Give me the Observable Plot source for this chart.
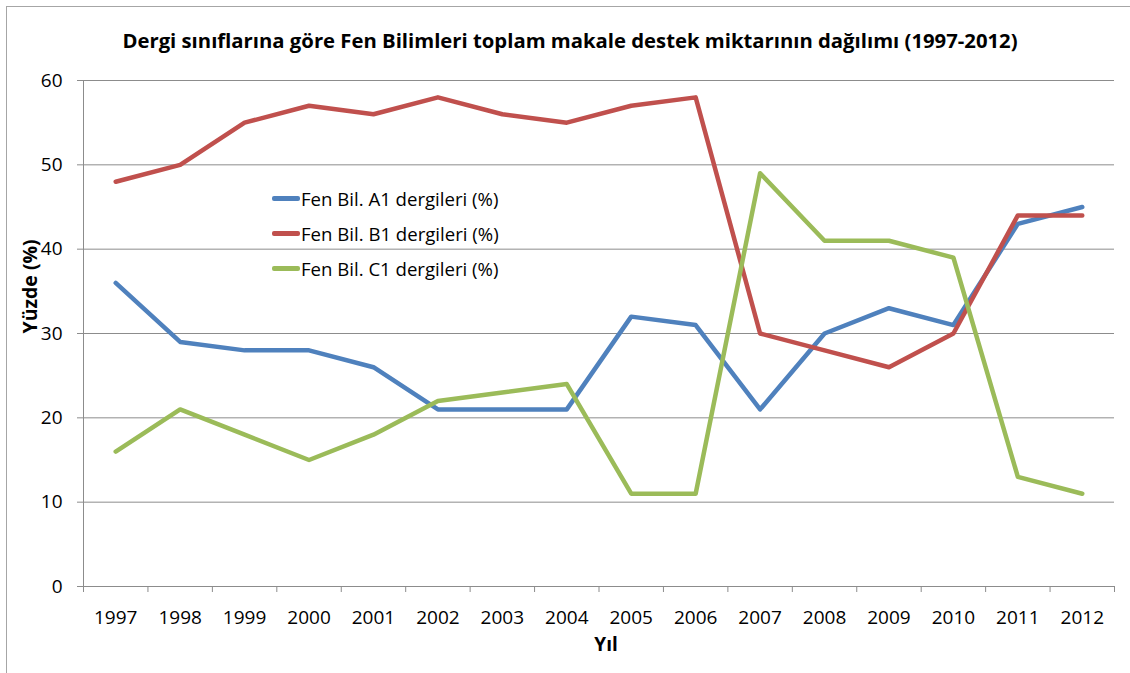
<!DOCTYPE html>
<html>
<head>
<meta charset="utf-8">
<script src="https://cdn.jsdelivr.net/npm/d3@7"></script>
<script src="https://cdn.jsdelivr.net/npm/@observablehq/plot@0.6"></script>
<style>
  html, body { margin: 0; padding: 0; background: #fff; }
  #wrap { position: relative; width: 1130px; height: 673px; overflow: hidden; font-family: "Open Sans", sans-serif; }
  #frame { position: absolute; left: 6px; top: 6px; width: 1200px; height: 800px; border-top: 1.5px solid #a6a6a6; border-left: 1.5px solid #a6a6a6; }
  #title { position: absolute; left: 0; top: 0; width: 1140px; height: 60px; line-height: 80px; text-align: center; font-weight: bold; font-size: 20.3px; color: #000; }
  #chart { position: absolute; left: 0; top: 60px; }
  #legend { position: absolute; left: 272px; top: 181px; font-size: 18.6px; color: #000; }
  #legend .item { display: flex; align-items: center; height: 35px; }
  #legend .sw { width: 28px; height: 4.5px; border-radius: 2px; margin-right: 1px; }
</style>
</head>
<body>
<div id="wrap">
  <div id="frame"></div>
  <div id="title">Dergi sınıflarına göre Fen Bilimleri toplam makale destek miktarının dağılımı (1997-2012)</div>
  <div id="chart"></div>
  <div id="legend"></div>
</div>
<script>
const years = [1997,1998,1999,2000,2001,2002,2003,2004,2005,2006,2007,2008,2009,2010,2011,2012];
const seriesNames = ["Fen Bil. A1 dergileri (%)", "Fen Bil. B1 dergileri (%)", "Fen Bil. C1 dergileri (%)"];
const a1 = [36,29,28,28,26,21,21,21,32,31,21,30,33,31,43,45];
const b1 = [48,50,55,57,56,58,56,55,57,58,30,28,26,30,44,44];
const c1 = [16,21,18,15,18,22,23,24,11,11,49,41,41,39,13,11];
const colors = ["#4F81BD", "#C0504D", "#9BBB59"];
const yTicks = [0,10,20,30,40,50,60];

const values = [a1, b1, c1];
const data = [];
seriesNames.forEach((s, i) => years.forEach((y, j) => data.push({series: s, year: y, value: values[i][j]})));

const boundaries = years.map(y => y - 0.5).concat([years[years.length - 1] + 0.5]);
const gray = "#8c8c8c";

const chart = Plot.plot({
  width: 1130,
  height: 613,
  marginLeft: 83,
  marginRight: 16,
  marginTop: 20,
  marginBottom: 87,
  style: {fontFamily: "'Open Sans', sans-serif", fontSize: "19px", color: "#000", background: "transparent"},
  x: {type: "linear", domain: [boundaries[0], boundaries[boundaries.length - 1]]},
  y: {domain: [0, 60]},
  color: {domain: seriesNames, range: colors},
  marks: [
    Plot.ruleY(yTicks.filter(d => d > 0), {stroke: gray, strokeWidth: 1}),
    Plot.axisY({ticks: yTicks, tickSize: 6, tickPadding: 15, stroke: gray, label: null, tickFormat: d => d}),
    Plot.ruleX([boundaries[0]], {stroke: gray, strokeWidth: 1}),
    Plot.ruleY([0], {stroke: gray, strokeWidth: 1}),
    Plot.axisX({ticks: boundaries, tickSize: 6, stroke: gray, tickFormat: () => "", label: null}),
    Plot.axisX({ticks: years, tickSize: 0, tickPadding: 24, tickFormat: d => String(d), label: null}),
    Plot.line(data, {x: "year", y: "value", z: "series", stroke: "series", strokeWidth: 4.5, strokeLinecap: "round", strokeLinejoin: "round"}),
    Plot.text(["Yüzde (%)"], {frameAnchor: "left", dx: -53, rotate: -90, fontWeight: "bold", fontSize: 19.5}),
    Plot.text(["Yıl"], {frameAnchor: "bottom", dx: 7, dy: 64, fontWeight: "bold", fontSize: 19})
  ]
});
document.getElementById("chart").appendChild(chart);

const legend = document.getElementById("legend");
seriesNames.forEach((s, i) => {
  const item = document.createElement("div");
  item.className = "item";
  const sw = document.createElement("span");
  sw.className = "sw";
  sw.style.background = colors[i];
  const t = document.createElement("span");
  t.textContent = s;
  item.appendChild(sw);
  item.appendChild(t);
  legend.appendChild(item);
});
</script>
</body>
</html>
